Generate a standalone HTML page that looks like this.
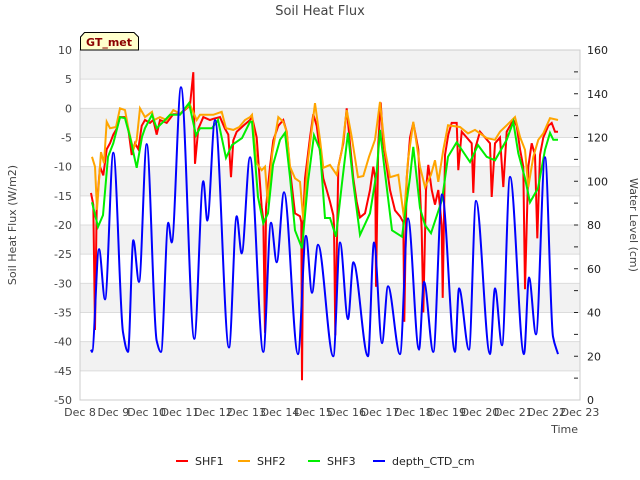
<!DOCTYPE html>
<html><head><meta charset="utf-8"><style>
body{margin:0;background:#fff;}
svg{display:block;font-family:"DejaVu Sans","Liberation Sans",sans-serif;}
</style></head><body>
<svg id="chart" width="640" height="480" viewBox="0 0 640 480">
<rect width="640" height="480" fill="#fff"/>
<text x="320" y="15" text-anchor="middle" font-size="13" fill="#444">Soil Heat Flux</text>
<g id="bands"></g>
<g id="grid"></g>
<g id="series"></g>
<g id="axes"></g>
<text x="16" y="225" transform="rotate(-90 16 225)" text-anchor="middle" font-size="11" fill="#444">Soil Heat Flux (W/m2)</text>
<text x="630" y="225" transform="rotate(90 630 225)" text-anchor="middle" font-size="11" fill="#444">Water Level (cm)</text>
<text x="578" y="433" text-anchor="end" font-size="11" fill="#444">Time</text>
<g>
<path d="M80.5,50 L80.5,37 L84.5,32.5 L134,32.5 L138.5,37 L138.5,50 Z" fill="#ffffcc" stroke="#000" stroke-width="1"/>
<text x="109" y="46" text-anchor="middle" font-size="11" font-weight="bold" fill="#8b0000">GT_met</text>
</g>
<g id="legend"></g>
</svg>
<script>
const seriesNames=["SHF1","SHF2","SHF3","depth_CTD_cm"];
const seriesColors=["#ff0000","#ffa500","#00ee00","#0000ff"];
const xTickLabels=["Dec 8","Dec 9","Dec 10","Dec 11","Dec 12","Dec 13","Dec 14","Dec 15","Dec 16","Dec 17","Dec 18","Dec 19","Dec 20","Dec 21","Dec 22","Dec 23"];
const yTicks=[10,5,0,-5,-10,-15,-20,-25,-30,-35,-40,-45,-50];
const y2Ticks=[0,20,40,60,80,100,120,140,160];
const shf1T=[0.33,0.4,0.45,0.5,0.6,0.7,0.8,0.9,1.0,1.1,1.2,1.35,1.45,1.55,1.65,1.75,1.85,1.95,2.1,2.2,2.3,2.4,2.6,2.8,3.0,3.3,3.4,3.45,3.55,3.7,3.9,4.0,4.2,4.35,4.45,4.53,4.6,4.7,4.9,5.1,5.16,5.3,5.45,5.5,5.55,5.58,5.7,5.8,5.95,6.1,6.2,6.3,6.45,6.6,6.64,6.66,6.7,6.75,6.9,7.0,7.1,7.2,7.3,7.4,7.5,7.6,7.62,7.66,7.75,7.9,8.0,8.1,8.2,8.3,8.4,8.55,8.7,8.8,8.86,8.88,8.95,9.02,9.1,9.2,9.3,9.45,9.6,9.7,9.73,9.8,9.9,10.0,10.05,10.15,10.25,10.3,10.38,10.45,10.55,10.65,10.75,10.85,10.88,10.95,11.05,11.15,11.3,11.35,11.45,11.6,11.75,11.8,11.85,12.0,12.15,12.3,12.35,12.45,12.6,12.7,12.8,13.0,13.1,13.2,13.3,13.35,13.45,13.55,13.65,13.72,13.8,13.9,14.05,14.15,14.25,14.34];
const shf1V=[-14.5,-16.5,-38,-17,-10,-11.5,-7,-6,-4.5,-3.5,-1.5,-1.5,-3.5,-8,-6,-7,-3,-2,-2.5,-2,-4.5,-2,-2.5,-1,-1,0.5,6.2,-9.5,-3.5,-1.5,-2,-1.8,-1.5,-3.5,-4.5,-11.8,-5.5,-4,-3,-2,-1.5,-5,-17,-19,-38.5,-17,-10,-5.5,-3,-2,-4,-10.5,-18,-18.5,-19.5,-46.6,-19,-12,-5,-1,-3,-7.5,-12,-14,-16,-18.3,-20,-38.9,-10,-6,0,-6,-12,-16,-18.7,-18,-14,-10,-12,-30.6,-6,1,-6,-10,-14,-17.5,-18.5,-19.5,-36.6,-12,-5,-2.5,-4,-7,-20.9,-35,-14,-9.7,-14,-16.5,-14,-20,-32.5,-8,-4.5,-2.5,-2.5,-10.6,-4,-5,-6,-14.5,-7,-4,-5,-6,-15.2,-6,-5,-13.5,-4,-2,-3,-7,-10,-31,-10,-6,-8,-22.3,-8,-5,-3,-2.5,-4,-4];
const shf2T=[0.36,0.45,0.51,0.63,0.72,0.8,0.9,1.08,1.2,1.35,1.45,1.6,1.7,1.8,1.95,2.16,2.22,2.4,2.6,2.8,3.0,3.3,3.5,3.6,4.0,4.25,4.38,4.6,4.78,4.95,5.1,5.16,5.3,5.45,5.55,5.63,5.77,5.95,6.1,6.2,6.3,6.45,6.6,6.7,6.84,7.05,7.2,7.3,7.5,7.7,7.86,8.0,8.15,8.34,8.5,8.67,8.85,9.0,9.15,9.3,9.55,9.72,9.84,10.0,10.2,10.35,10.53,10.65,10.75,10.9,11.04,11.4,11.64,11.85,12.2,12.45,12.6,12.8,13.05,13.2,13.35,13.45,13.6,13.75,13.9,14.1,14.34];
const shf2V=[-8.3,-10,-17.4,-7.5,-9.4,-2.3,-3.4,-3.2,0,-0.3,-3.4,-7.1,-5.4,0,-1.5,-0.6,-2,-1.5,-2,-0.3,-0.9,0.6,-2,-1.1,-1.1,-0.6,-3.4,-3.7,-3.2,-2,-1.5,-1.1,-9.4,-10.6,-10,-16.2,-7.7,-1.5,-2.3,-4,-10,-12,-12.6,-19.1,-8.9,0.9,-5.4,-10.2,-9.7,-11.4,-7.1,-0.3,-4.9,-11.8,-11.6,-8.3,-5.4,1.1,-7.1,-11.8,-11.4,-18.8,-8.9,-2.3,-10,-13.5,-11.4,-8.9,-12.6,-7.1,-2.9,-3.2,-4.3,-3.7,-5.1,-5.4,-4,-2.9,-1.5,-4.9,-7.1,-13.5,-8.3,-5.4,-4.3,-1.7,-2];
const shf3T=[0.36,0.54,0.69,0.84,1.0,1.2,1.35,1.5,1.7,1.86,1.95,2.16,2.3,2.5,2.7,3.0,3.27,3.48,3.6,3.96,4.14,4.38,4.56,4.86,5.1,5.16,5.34,5.5,5.64,5.79,6.0,6.15,6.3,6.45,6.66,6.84,7.02,7.2,7.35,7.5,7.68,7.86,8.04,8.2,8.4,8.7,8.9,9.0,9.15,9.36,9.66,9.9,10.0,10.2,10.35,10.53,10.86,11.04,11.3,11.7,11.94,12.2,12.45,12.8,13.0,13.15,13.35,13.5,13.74,13.95,14.1,14.2,14.34];
const shf3V=[-16.1,-20.3,-18.3,-8.3,-6,-1.5,-1.7,-4.9,-10.2,-4.9,-3.4,-1.1,-3.4,-2.3,-1.1,-1.1,0.9,-4.6,-3.4,-3.4,-2,-8.5,-6.3,-5.1,-2.3,-2.3,-15.2,-19.7,-18,-9.7,-5.4,-4.2,-11.8,-20.9,-24,-12.6,-4.6,-7.1,-18.8,-18.8,-22,-12.8,-4.2,-12.8,-21.7,-18,-10.9,-3.7,-11.1,-20.9,-22,-11.8,-6.6,-17.1,-20,-21.4,-15.7,-8.3,-5.8,-9.2,-6.3,-8.3,-8.9,-5.4,-2.3,-7.7,-12,-16.1,-13.7,-7.1,-4.2,-5.4,-5.4];
const depthT=[0.33,0.36,0.57,0.75,1.0,1.29,1.44,1.6,1.77,2.0,2.3,2.43,2.65,2.75,3.03,3.43,3.7,3.82,4.05,4.47,4.7,4.85,5.1,5.5,5.73,5.9,6.12,6.54,6.78,6.96,7.14,7.6,7.8,8.04,8.2,8.64,8.82,9.06,9.24,9.6,9.84,10.17,10.32,10.6,10.86,11.25,11.37,11.67,11.88,12.3,12.45,12.66,12.9,13.32,13.47,13.68,13.95,14.19,14.34];
const depthV=[23,22,69,46,113,31,22,73,54,117,27,22,81,72,143,28,100,82,128,24,84,67,111,22,81,63,95,21,75,49,71,20,72,37,63,20,72,26,52,21,83,23,54,22,94,22,51,23,91,21,51,25,102,21,56,30,111,29,21];

const X0=80,X1=580,Y0=50,Y1=400;
const xScale=d=>X0+(X1-X0)*d/15;
const yScale=v=>Y0+(10-v)*(Y1-Y0)/60;
const y2Scale=v=>Y1-v*(Y1-Y0)/160;
const NS="http://www.w3.org/2000/svg";
function mk(tag,attrs,parent){const e=document.createElementNS(NS,tag);for(const k in attrs)e.setAttribute(k,attrs[k]);parent.appendChild(e);return e;}
const bands=document.getElementById('bands'),grid=document.getElementById('grid'),series=document.getElementById('series'),axes=document.getElementById('axes'),legend=document.getElementById('legend');
mk('rect',{x:X0,y:Y0,width:X1-X0,height:Y1-Y0,fill:'#fff'},bands);
for(let v=10;v>-50;v-=10){const b=mk('rect',{x:X0,y:yScale(v),width:X1-X0,height:yScale(v-5)-yScale(v),fill:'#f2f2f2'},bands);

}
yTicks.forEach(v=>{const l=mk('line',{x1:X0,x2:X1,y1:yScale(v),y2:yScale(v),stroke:'#dcdcdc','stroke-width':1},grid);


const t=mk('text',{x:72,y:yScale(v)+4,'text-anchor':'end','font-size':11,fill:'#444'},axes);t.textContent=v;

});
mk('rect',{x:X0,y:Y0,width:X1-X0,height:Y1-Y0,fill:'none',stroke:'#ccc'},axes);
y2Ticks.forEach(v=>{const t=mk('text',{x:587,y:y2Scale(v)+4,'font-size':11,fill:'#222'},axes);t.textContent=v;

});
for(let v=10;v<160;v+=10){const m=mk('line',{x1:574,x2:578,y1:y2Scale(v),y2:y2Scale(v),stroke:'#222'},axes);

}
xTickLabels.forEach((s,i)=>{const t=mk('text',{x:xScale(i),y:416,'text-anchor':'middle','font-size':11,fill:'#444'},axes);t.textContent=s;

});
function linePath(T,V,ys){return T.map((d,i)=>(i?'L':'M')+xScale(d).toFixed(1)+','+ys(V[i]).toFixed(1)).join('');}
function monoPath(T,V,ys){
  const xs=T.map(xScale),yv=V.map(ys),n=xs.length;
  const dx=[],sl=[];for(let i=0;i<n-1;i++){dx.push(xs[i+1]-xs[i]);sl.push((yv[i+1]-yv[i])/dx[i]);}
  const m=new Array(n);m[0]=sl[0];m[n-1]=sl[n-2];
  for(let i=1;i<n-1;i++){if(sl[i-1]*sl[i]<=0)m[i]=0;else{const w1=2*dx[i]+dx[i-1],w2=dx[i]+2*dx[i-1];m[i]=(w1+w2)/(w1/sl[i-1]+w2/sl[i]);}}
  let s='M'+xs[0].toFixed(1)+','+yv[0].toFixed(1);
  for(let i=0;i<n-1;i++){const h=dx[i]/3;
    s+='C'+(xs[i]+h).toFixed(1)+','+(yv[i]+m[i]*h).toFixed(1)+' '+(xs[i+1]-h).toFixed(1)+','+(yv[i+1]-m[i+1]*h).toFixed(1)+' '+xs[i+1].toFixed(1)+','+yv[i+1].toFixed(1);}
  return s;}
const p1=mk('path',{d:linePath(shf1T,shf1V,yScale),fill:'none',stroke:seriesColors[0],'stroke-width':2},series);


const p2=mk('path',{d:linePath(shf2T,shf2V,yScale),fill:'none',stroke:seriesColors[1],'stroke-width':2},series);


const p3=mk('path',{d:linePath(shf3T,shf3V,yScale),fill:'none',stroke:seriesColors[2],'stroke-width':2},series);


const p4=mk('path',{d:monoPath(depthT,depthV,y2Scale),fill:'none',stroke:seriesColors[3],'stroke-width':2},series);


const legX=[176,238,308,373];
seriesNames.forEach((n,i)=>{const g=mk('g',{},legend);


mk('line',{x1:legX[i],x2:legX[i]+12,y1:461,y2:461,stroke:seriesColors[i],'stroke-width':2},g);
const t=mk('text',{x:legX[i]+19,y:465,'font-size':11,fill:'#222'},g);t.textContent=n;});
</script>
</body></html>
